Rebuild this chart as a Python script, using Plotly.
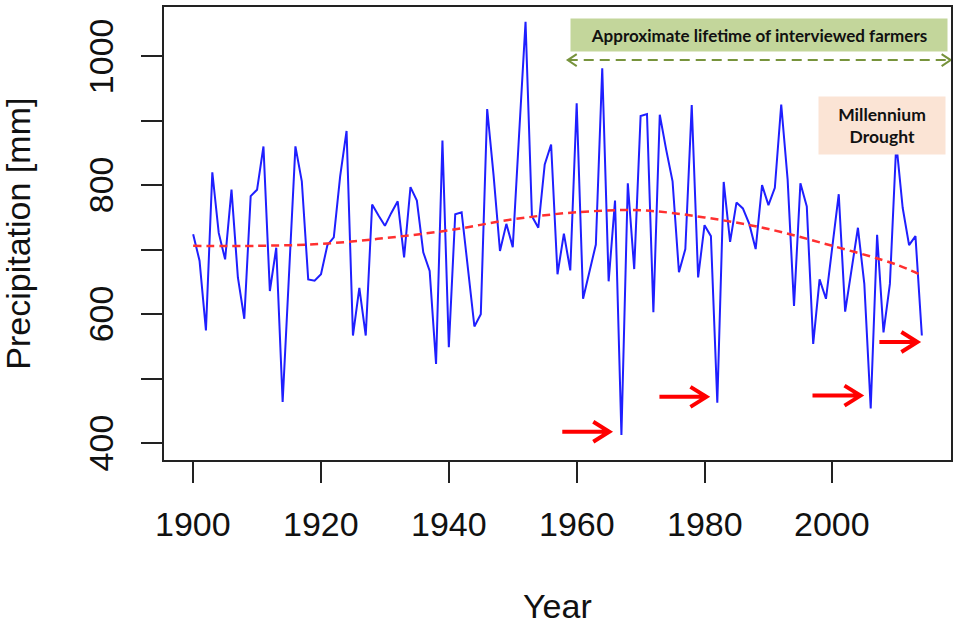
import plotly.graph_objects as go

# Annual precipitation series
years = list(range(1900, 2015))
precip_mm = [
    724, 683, 575, 820, 726, 685, 793, 657, 593, 783,   # 1900s
    793, 860, 636, 703, 464, 663, 860, 806, 654, 652,   # 1910s
    662, 707, 719, 814, 884, 567, 641, 567, 770, 753,   # 1920s
    737, 757, 775, 688, 797, 776, 696, 667, 523, 869,   # 1930s
    549, 755, 758, 670, 581, 600, 918, 815, 698, 740,   # 1940s
    704, 880, 1053, 752, 734, 832, 863, 662, 725, 668,  # 1950s
    927, 624, 667, 708, 981, 651, 776, 413, 803, 670,   # 1960s
    907, 910, 603, 909, 855, 806, 665, 701, 924, 657,   # 1970s
    738, 721, 463, 805, 712, 773, 764, 740, 701, 800,   # 1980s
    769, 796, 925, 809, 613, 803, 767, 554, 654, 624,   # 1990s
    705, 786, 604, 670, 734, 647, 454, 723, 572, 647,   # 2000s
    865, 765, 707, 721, 567,                            # 2010s
]

# Smoothed long-term trend
trend_years = [1900, 1910, 1920, 1930, 1940, 1950, 1960, 1970, 1980, 1990, 2000, 2010, 2014]
trend_mm = [706, 706, 709, 718, 730, 747, 758, 761, 750, 732, 706, 677, 660]

# Axis ticks
x_tick_years = [1900, 1920, 1940, 1960, 1980, 2000]
y_tick_vals = [400, 500, 600, 700, 800, 900, 1000]
y_label_vals = [400, 600, 800, 1000]

# Drought markers: arrow tip (year), arrow level (mm), arrow length (px)
arrow_tip_year = [1965.1, 1980.3, 2004.4, 2013.3]
arrow_level_mm = [418, 472, 474, 557]
arrow_len_px = [47, 47, 48, 38]

# Span of the farmers' lifetime bracket
lifetime_span = [1958.6, 2018.5]
lifetime_level_mm = 993.8

W, H = 958, 624
ML, MR, MT, MB = 164, 6, 5, 164
PW, PH = W - ML - MR, H - MT - MB


def px(x, y):
    """Convert page pixel position to paper coordinates."""
    return (x - ML) / PW, (H - MB - y) / PH


AXIS_COL = "#222222"
LABEL_FONT = dict(family="Liberation Sans, Arial, sans-serif", size=34, color="#111111")
BOX_FONT = "Lato, Calibri, sans-serif"

fig = go.Figure()

fig.add_trace(go.Scatter(
    x=years, y=precip_mm, mode="lines",
    line=dict(color="#1f1fff", width=2),
    hoverinfo="x+y", showlegend=False,
))

fig.add_trace(go.Scatter(
    x=trend_years, y=trend_mm, mode="lines",
    line=dict(color="#ff3030", width=2.5, dash="8px,5px", shape="spline"),
    hoverinfo="skip", showlegend=False,
))

shapes = []

# Red drought arrows (shaft + open head)
for tip, level, length in zip(arrow_tip_year, arrow_level_mm, arrow_len_px):
    shapes.append(dict(
        type="path", xref="x", yref="y",
        xsizemode="pixel", ysizemode="pixel",
        xanchor=tip, yanchor=level,
        path=f"M {-length},0 L 0,0 M -16,-10 L 0,0 L -16,10",
        line=dict(color="#ff0000", width=4),
    ))

# Lifetime bracket: dashed line with open heads at both ends
shapes.append(dict(
    type="line", xref="x", yref="y",
    x0=lifetime_span[0], x1=lifetime_span[1],
    y0=lifetime_level_mm, y1=lifetime_level_mm,
    line=dict(color="#77933c", width=2, dash="10px,6px"),
))
shapes.append(dict(
    type="path", xref="x", yref="y",
    xsizemode="pixel", ysizemode="pixel",
    xanchor=lifetime_span[0], yanchor=lifetime_level_mm,
    path="M 9,-6 L 0,0 L 9,6",
    line=dict(color="#77933c", width=2),
))
shapes.append(dict(
    type="path", xref="x", yref="y",
    xsizemode="pixel", ysizemode="pixel",
    xanchor=lifetime_span[1], yanchor=lifetime_level_mm,
    path="M -9,-6 L 0,0 L -9,6",
    line=dict(color="#77933c", width=2),
))

annotations = []

# Tick labels, placed on the axis scales
_, xl_y = px(0, 524)
for yr in x_tick_years:
    annotations.append(dict(
        xref="x", yref="paper", x=yr, y=xl_y, xanchor="center", yanchor="middle",
        text=str(yr), showarrow=False, font=LABEL_FONT,
    ))
yl_x, _ = px(101, 0)
for v in y_label_vals:
    annotations.append(dict(
        xref="paper", yref="y", x=yl_x, y=v, xanchor="center", yanchor="middle",
        text=str(v), textangle=-90, showarrow=False, font=LABEL_FONT,
    ))

gx, gy = px(759.5, 33)
annotations.append(dict(
    xref="paper", yref="paper", x=gx, y=gy, xanchor="center", yanchor="middle",
    text="<b>Approximate lifetime of interviewed farmers</b>",
    showarrow=False, bgcolor="#c3d69b", width=376, height=32, borderpad=0,
    font=dict(family=BOX_FONT, size=17, color="#111111"),
))

mx, my = px(883, 124.3)
annotations.append(dict(
    xref="paper", yref="paper", x=mx, y=my, xanchor="center", yanchor="middle",
    text="<b>Millennium</b><br><b>Drought</b>",
    showarrow=False, bgcolor="#fbe4d5", width=126, height=57, borderpad=0,
    font=dict(family=BOX_FONT, size=17.5, color="#111111"),
))

tx, ty = px(558, 607)
annotations.append(dict(
    xref="paper", yref="paper", x=tx, y=ty, xanchor="center", yanchor="middle",
    text="Year", showarrow=False, font=LABEL_FONT,
))

lx, ly = px(17, 232.5)
annotations.append(dict(
    xref="paper", yref="paper", x=lx, y=ly, xanchor="center", yanchor="middle",
    text="Precipitation [mm]", textangle=-90, showarrow=False, font=LABEL_FONT,
))

fig.update_layout(
    width=W, height=H,
    margin=dict(l=ML, r=MR, t=MT, b=MB, pad=0),
    paper_bgcolor="white", plot_bgcolor="white",
    shapes=shapes, annotations=annotations,
    xaxis=dict(
        range=[1895.44, 2018.56], tickvals=x_tick_years, showticklabels=False,
        ticks="outside", ticklen=21, tickwidth=1.5, tickcolor=AXIS_COL,
        showline=True, linecolor=AXIS_COL, linewidth=1.5, mirror=True,
        showgrid=False, zeroline=False,
    ),
    yaxis=dict(
        range=[374.2, 1076.0], tickvals=y_tick_vals, showticklabels=False,
        ticks="outside", ticklen=21, tickwidth=1.5, tickcolor=AXIS_COL,
        showline=True, linecolor=AXIS_COL, linewidth=1.5, mirror=True,
        showgrid=False, zeroline=False,
    ),
)

fig.write_html("out.html")
